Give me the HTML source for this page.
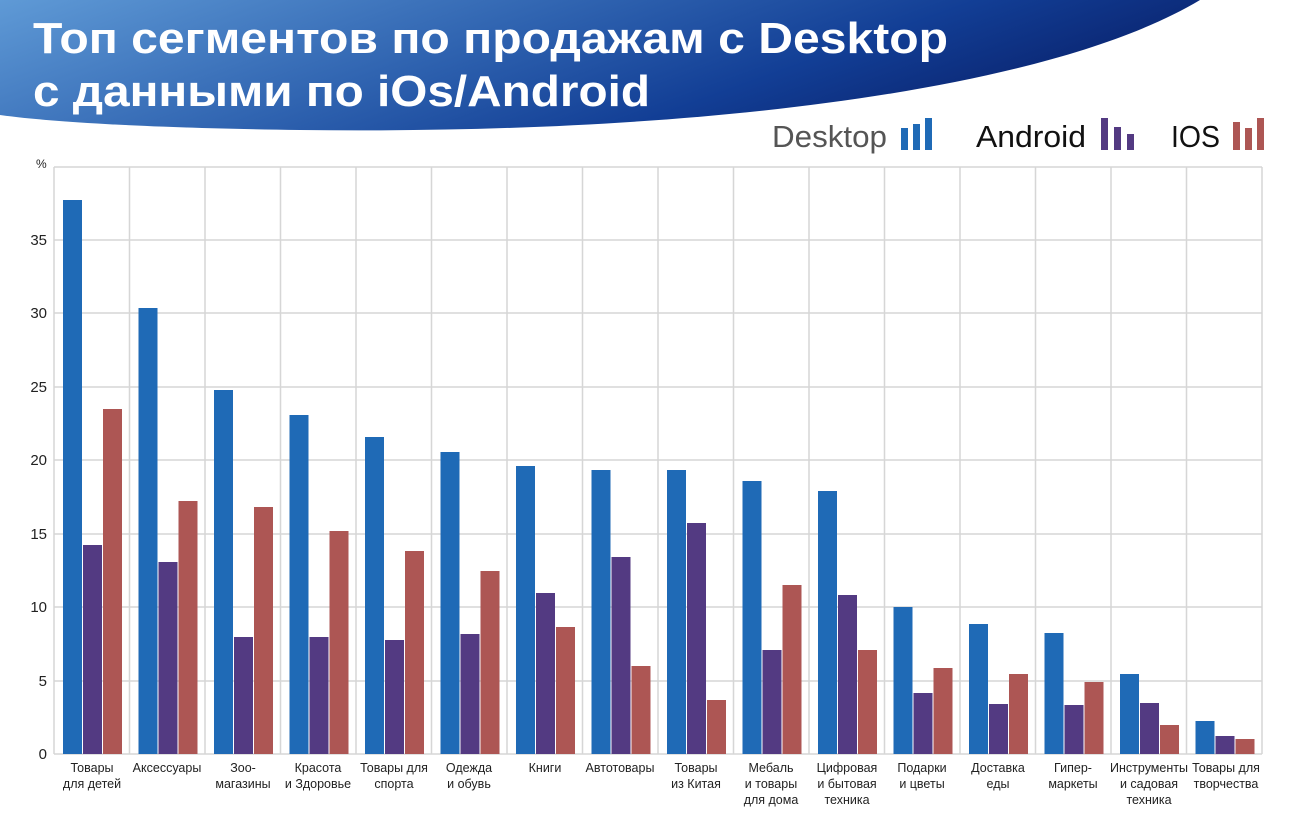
<!DOCTYPE html>
<html><head><meta charset="utf-8"><style>
body{margin:0;background:#fff;width:1304px;height:822px;overflow:hidden;font-family:"Liberation Sans","DejaVu Sans",sans-serif}
</style></head><body>
<svg width="1304" height="822" xmlns="http://www.w3.org/2000/svg" font-family="Liberation Sans, DejaVu Sans, sans-serif">
<defs><linearGradient id="g" x1="0" y1="0" x2="1" y2="0.3">
<stop offset="0" stop-color="#5f9ad6"/><stop offset="0.45" stop-color="#2f63b0"/><stop offset="0.75" stop-color="#123e95"/><stop offset="1" stop-color="#0a2470"/></linearGradient></defs>
<path d="M0,0 H1200 C1050,90 700,135 300,130 C150,128 50,122 0,115 Z" fill="url(#g)"/>
<text x="33" y="53" fill="#fff" font-size="44" font-weight="bold" textLength="915" lengthAdjust="spacingAndGlyphs">Топ сегментов по продажам с Desktop</text>
<text x="33" y="106" fill="#fff" font-size="44" font-weight="bold" textLength="617" lengthAdjust="spacingAndGlyphs">с данными по iOs/Android</text>
<g font-size="31">
<text x="772" y="147" fill="#555" textLength="115" lengthAdjust="spacingAndGlyphs">Desktop</text>
<text x="976" y="147" fill="#111" textLength="110" lengthAdjust="spacingAndGlyphs">Android</text>
<text x="1171" y="147" fill="#111" textLength="49" lengthAdjust="spacingAndGlyphs">IOS</text>
</g>
<g fill="#1f6ab6"><rect x="901" y="128" width="7" height="22"/><rect x="913" y="124" width="7" height="26"/><rect x="925" y="118" width="7" height="32"/></g>
<g fill="#533a82"><rect x="1101" y="118" width="7" height="32"/><rect x="1114" y="127" width="7" height="23"/><rect x="1127" y="134" width="7" height="16"/></g>
<g fill="#ad5654"><rect x="1233" y="122" width="7" height="28"/><rect x="1245" y="128" width="7" height="22"/><rect x="1257" y="118" width="7" height="32"/></g>
<text x="36" y="168" font-size="12" fill="#222">%</text>
<g stroke="#d6d6d6" stroke-width="1.5">
<line x1="54" y1="167" x2="1262" y2="167"/><line x1="54" y1="240" x2="1262" y2="240"/><line x1="54" y1="313" x2="1262" y2="313"/><line x1="54" y1="387" x2="1262" y2="387"/><line x1="54" y1="460" x2="1262" y2="460"/><line x1="54" y1="534" x2="1262" y2="534"/><line x1="54" y1="607" x2="1262" y2="607"/><line x1="54" y1="681" x2="1262" y2="681"/><line x1="54" y1="754" x2="1262" y2="754"/>
<line x1="54" y1="167" x2="54" y2="754"/><line x1="129.5" y1="167" x2="129.5" y2="754"/><line x1="205" y1="167" x2="205" y2="754"/><line x1="280.5" y1="167" x2="280.5" y2="754"/><line x1="356" y1="167" x2="356" y2="754"/><line x1="431.5" y1="167" x2="431.5" y2="754"/><line x1="507" y1="167" x2="507" y2="754"/><line x1="582.5" y1="167" x2="582.5" y2="754"/><line x1="658" y1="167" x2="658" y2="754"/><line x1="733.5" y1="167" x2="733.5" y2="754"/><line x1="809" y1="167" x2="809" y2="754"/><line x1="884.5" y1="167" x2="884.5" y2="754"/><line x1="960" y1="167" x2="960" y2="754"/><line x1="1035.5" y1="167" x2="1035.5" y2="754"/><line x1="1111" y1="167" x2="1111" y2="754"/><line x1="1186.5" y1="167" x2="1186.5" y2="754"/><line x1="1262" y1="167" x2="1262" y2="754"/>
</g>
<g font-size="15" fill="#222" text-anchor="end">
<text x="47" y="759">0</text><text x="47" y="686">5</text><text x="47" y="612">10</text><text x="47" y="539">15</text><text x="47" y="465">20</text><text x="47" y="392">25</text><text x="47" y="318">30</text><text x="47" y="245">35</text>
</g>
<g fill="#1f6ab6">
<rect x="63" y="200" width="19" height="554"/><rect x="138.5" y="308" width="19" height="446"/><rect x="214" y="390" width="19" height="364"/><rect x="289.5" y="415" width="19" height="339"/><rect x="365" y="437" width="19" height="317"/><rect x="440.5" y="452" width="19" height="302"/><rect x="516" y="466" width="19" height="288"/><rect x="591.5" y="470" width="19" height="284"/><rect x="667" y="470" width="19" height="284"/><rect x="742.5" y="481" width="19" height="273"/><rect x="818" y="491" width="19" height="263"/><rect x="893.5" y="607" width="19" height="147"/><rect x="969" y="624" width="19" height="130"/><rect x="1044.5" y="633" width="19" height="121"/><rect x="1120" y="674" width="19" height="80"/><rect x="1195.5" y="721" width="19" height="33"/>
</g>
<g fill="#533a82">
<rect x="83" y="545" width="19" height="209"/><rect x="158.5" y="562" width="19" height="192"/><rect x="234" y="637" width="19" height="117"/><rect x="309.5" y="637" width="19" height="117"/><rect x="385" y="640" width="19" height="114"/><rect x="460.5" y="634" width="19" height="120"/><rect x="536" y="593" width="19" height="161"/><rect x="611.5" y="557" width="19" height="197"/><rect x="687" y="523" width="19" height="231"/><rect x="762.5" y="650" width="19" height="104"/><rect x="838" y="595" width="19" height="159"/><rect x="913.5" y="693" width="19" height="61"/><rect x="989" y="704" width="19" height="50"/><rect x="1064.5" y="705" width="19" height="49"/><rect x="1140" y="703" width="19" height="51"/><rect x="1215.5" y="736" width="19" height="18"/>
</g>
<g fill="#ad5654">
<rect x="103" y="409" width="19" height="345"/><rect x="178.5" y="501" width="19" height="253"/><rect x="254" y="507" width="19" height="247"/><rect x="329.5" y="531" width="19" height="223"/><rect x="405" y="551" width="19" height="203"/><rect x="480.5" y="571" width="19" height="183"/><rect x="556" y="627" width="19" height="127"/><rect x="631.5" y="666" width="19" height="88"/><rect x="707" y="700" width="19" height="54"/><rect x="782.5" y="585" width="19" height="169"/><rect x="858" y="650" width="19" height="104"/><rect x="933.5" y="668" width="19" height="86"/><rect x="1009" y="674" width="19" height="80"/><rect x="1084.5" y="682" width="19" height="72"/><rect x="1160" y="725" width="19" height="29"/><rect x="1235.5" y="739" width="19" height="15"/>
</g>
<g font-size="12.5" fill="#222" text-anchor="middle">
<text x="92" y="772">Товары</text><text x="92" y="788">для детей</text>
<text x="167" y="772">Аксессуары</text>
<text x="243" y="772">Зоо-</text><text x="243" y="788">магазины</text>
<text x="318" y="772">Красота</text><text x="318" y="788">и Здоровье</text>
<text x="394" y="772">Товары для</text><text x="394" y="788">спорта</text>
<text x="469" y="772">Одежда</text><text x="469" y="788">и обувь</text>
<text x="545" y="772">Книги</text>
<text x="620" y="772">Автотовары</text>
<text x="696" y="772">Товары</text><text x="696" y="788">из Китая</text>
<text x="771" y="772">Мебаль</text><text x="771" y="788">и товары</text><text x="771" y="804">для дома</text>
<text x="847" y="772">Цифровая</text><text x="847" y="788">и бытовая</text><text x="847" y="804">техника</text>
<text x="922" y="772">Подарки</text><text x="922" y="788">и цветы</text>
<text x="998" y="772">Доставка</text><text x="998" y="788">еды</text>
<text x="1073" y="772">Гипер-</text><text x="1073" y="788">маркеты</text>
<text x="1149" y="772">Инструменты</text><text x="1149" y="788">и садовая</text><text x="1149" y="804">техника</text>
<text x="1226" y="772">Товары для</text><text x="1226" y="788">творчества</text>
</g>
</svg>
</body></html>
